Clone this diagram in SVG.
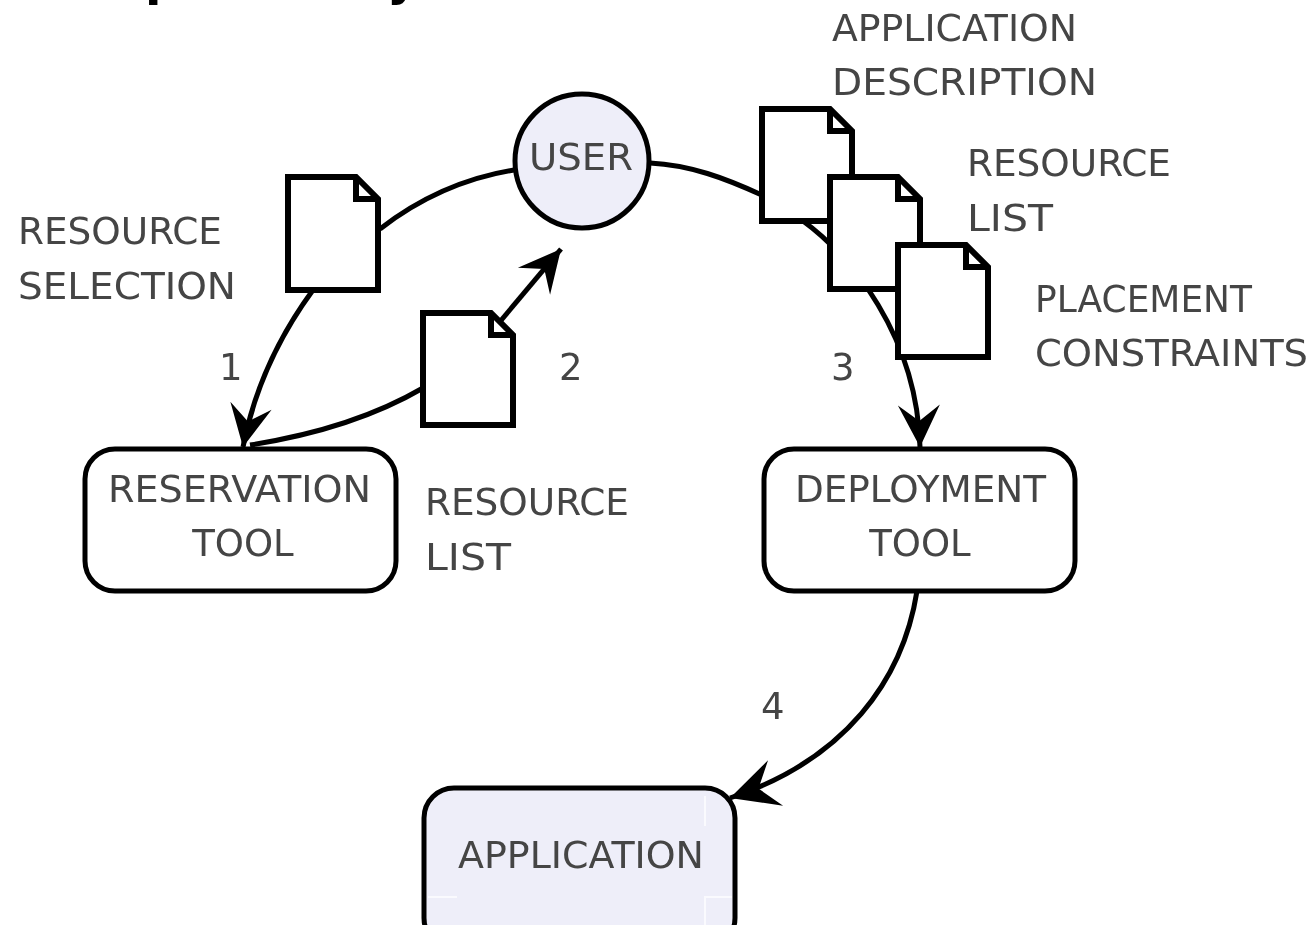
<svg xmlns="http://www.w3.org/2000/svg" width="1313" height="925" viewBox="0 0 1313 925">
<style>
text{font-family:"DejaVu Sans",sans-serif;font-size:37px;fill:#444}
.m{text-anchor:middle}
.t{font-weight:700;font-size:48px;fill:#000}
.box{fill:#fff;stroke:#000;stroke-width:5;stroke-linejoin:round}
.fill{fill:#eeeef9}
.doc{fill:#fff;stroke:#000;stroke-width:6;stroke-linejoin:miter}
.fold{fill:none;stroke:#000;stroke-width:6}
.c{fill:none;stroke:#000;stroke-width:5}
.arrow{marker-end:url(#a)}
.mark{fill:none;stroke:#fafafe;stroke-width:2}
</style>
<defs>
<marker id="a" markerUnits="userSpaceOnUse" markerWidth="60" markerHeight="60" refX="46" refY="30" orient="auto" overflow="visible"><path d="M46,30 L4,9 L20,30 L4,51 Z" fill="#000"/></marker>
<marker id="c" markerUnits="userSpaceOnUse" markerWidth="60" markerHeight="60" refX="50" refY="30" orient="auto" overflow="visible"><path d="M50,30 L2,6 L20,30 L2,54 Z" fill="#000"/></marker>
<filter id="soft" x="0" y="0" width="100%" height="100%"><feGaussianBlur stdDeviation="0.6"/></filter>
</defs>
<rect width="1313" height="925" fill="#fff"/>
<g filter="url(#soft)">
<g id="heading-fragment"><text class="t" x="145" y="-5">p</text><text class="t" x="387" y="-5">y</text></g>
<g id="connectors">
<path class="c" d="M514,170 C465,178 420,198 380,229"/>
<path class="c arrow" d="M313,290 C280,335 255,385 243,447"/>
<path class="c" d="M423,388 C375,416 320,434 250,445"/>
<path class="c arrow" d="M498,324 L561,249"/>
<path class="c" d="M650,163 C690,165 725,178 764,196"/>
<path class="c arrow" d="M803,221 C850,255 917,335 920,447"/>
<path class="c" style="marker-end:url(#c)" d="M917,591 C903,680 845,760 730,798"/>
</g>
<g id="user"><circle class="box fill" cx="582" cy="161" r="67"/><text class="m" x="581" y="170" textLength="104" lengthAdjust="spacingAndGlyphs">USER</text></g>
<g id="doc-resource-selection"><path class="doc" d="M288,177 H356 L378,199 V290 H288 Z"/><path class="fold" d="M356,177 V199 H378"/></g>
<g id="doc-resource-list-left"><path class="doc" d="M423,313 H491 L513,335 V425 H423 Z"/><path class="fold" d="M491,313 V335 H513"/></g>
<g id="doc-application-description"><path class="doc" d="M762,109 H830 L852,131 V221 H762 Z"/><path class="fold" d="M830,109 V131 H852"/></g>
<g id="doc-resource-list-right"><path class="doc" d="M830,177 H898 L920,199 V289 H830 Z"/><path class="fold" d="M898,177 V199 H920"/></g>
<g id="doc-placement-constraints"><path class="doc" d="M898,245 H966 L988,267 V357 H898 Z"/><path class="fold" d="M966,245 V267 H988"/></g>
<g id="reservation-tool"><rect class="box" x="85" y="449" width="311" height="142" rx="30" ry="30"/><text x="108" y="502" textLength="263" lengthAdjust="spacingAndGlyphs">RESERVATION</text><text class="m" x="243" y="556">TOOL</text></g>
<g id="deployment-tool"><rect class="box" x="764" y="449" width="311" height="142" rx="30" ry="30"/><text x="795" y="502" textLength="251" lengthAdjust="spacingAndGlyphs">DEPLOYMENT</text><text class="m" x="920" y="556">TOOL</text></g>
<g id="application"><rect class="box fill" x="424" y="788" width="311" height="160" rx="30" ry="30"/><path class="mark" d="M705,796V826M428,897H457M705,925V897H732"/><text x="458" y="868" textLength="246" lengthAdjust="spacingAndGlyphs">APPLICATION</text></g>
<g id="labels">
<text x="832" y="41" textLength="245" lengthAdjust="spacingAndGlyphs">APPLICATION</text><text x="832" y="95" textLength="265" lengthAdjust="spacingAndGlyphs">DESCRIPTION</text>
<text x="967" y="176" textLength="204" lengthAdjust="spacingAndGlyphs">RESOURCE</text><text x="967" y="231" textLength="86" lengthAdjust="spacingAndGlyphs">LIST</text>
<text x="1035" y="312" textLength="217" lengthAdjust="spacingAndGlyphs">PLACEMENT</text><text x="1035" y="366" textLength="273" lengthAdjust="spacingAndGlyphs">CONSTRAINTS</text>
<text x="18" y="244" textLength="204" lengthAdjust="spacingAndGlyphs">RESOURCE</text><text x="18" y="299" textLength="218" lengthAdjust="spacingAndGlyphs">SELECTION</text>
<text x="425" y="515" textLength="204" lengthAdjust="spacingAndGlyphs">RESOURCE</text><text x="425" y="570" textLength="86" lengthAdjust="spacingAndGlyphs">LIST</text>
<text x="219" y="380">1</text><text x="559" y="380">2</text><text x="831" y="380">3</text><text x="761" y="719">4</text>
</g>
</g>
</svg>
